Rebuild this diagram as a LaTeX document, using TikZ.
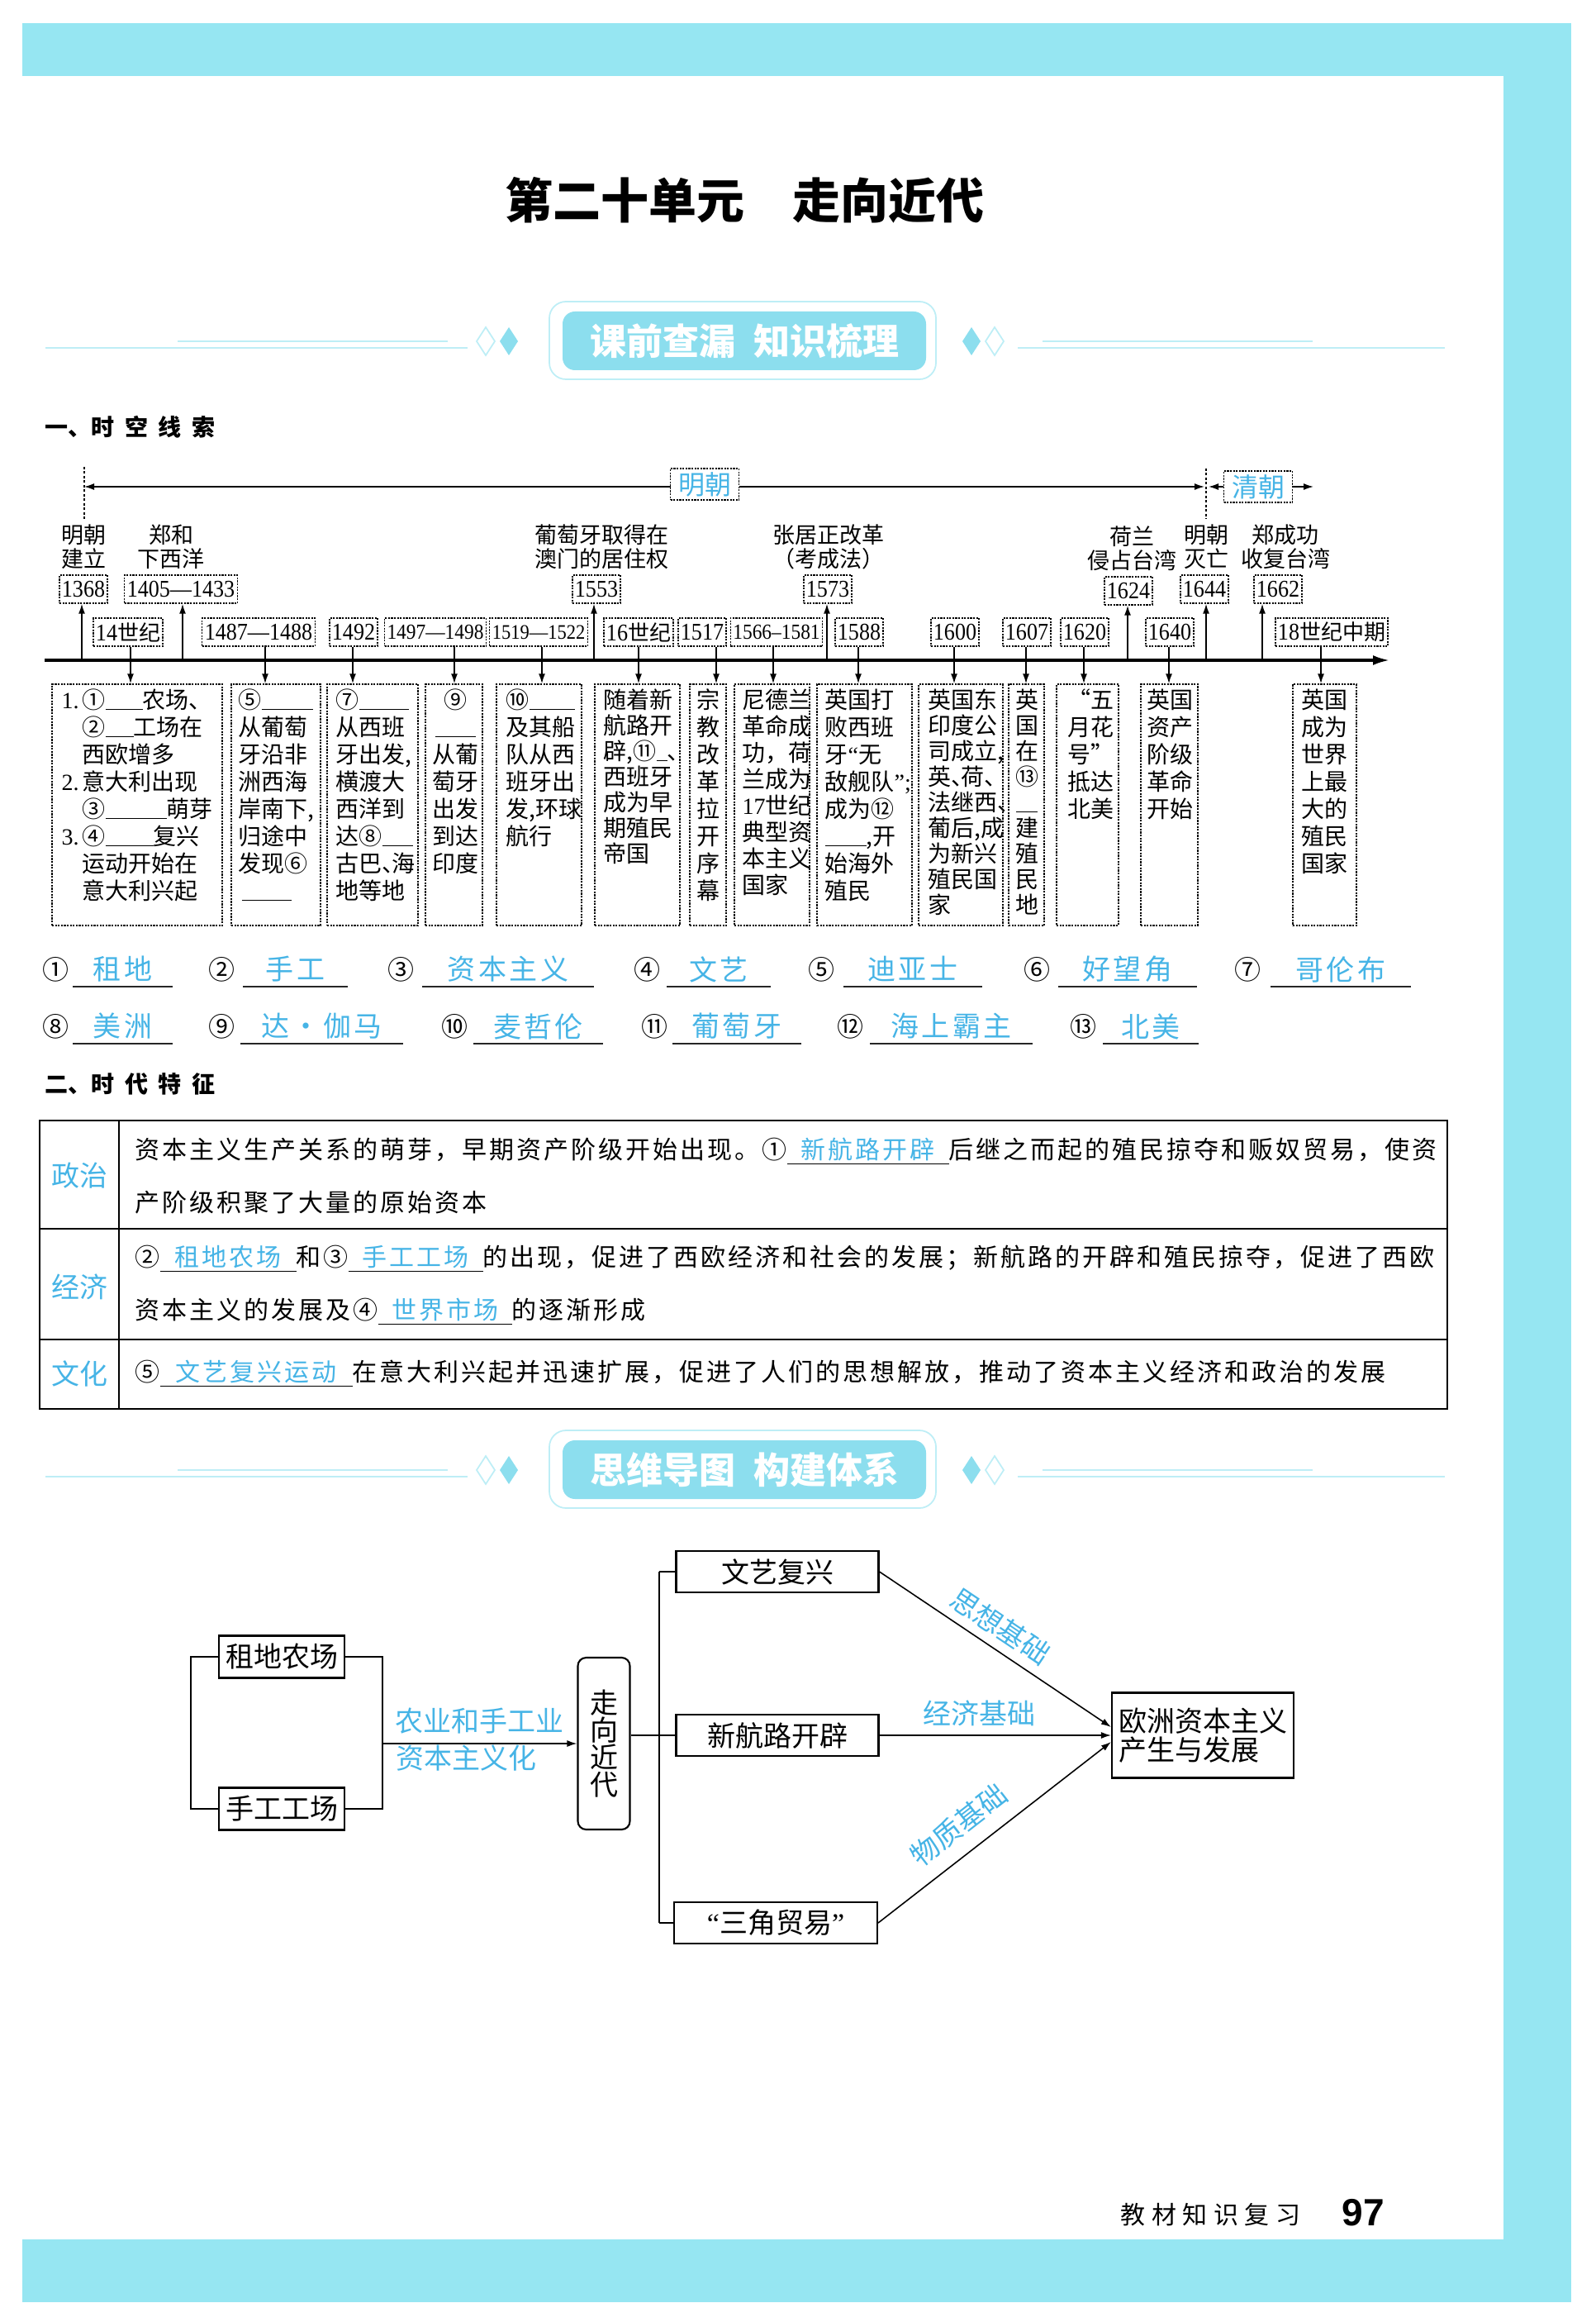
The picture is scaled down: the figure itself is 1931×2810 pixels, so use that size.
\documentclass[tikz,border=0pt]{standalone}
\usepackage{fontspec}
\setmainfont{Noto Sans CJK SC}
\newfontfamily\cjkf{Noto Sans CJK SC}
\newfontfamily\lat{Liberation Serif}
\newfontfamily\latc[FakeStretch=0.9]{Liberation Serif}
\newfontfamily\tabfont[LetterSpace=10]{Noto Sans CJK SC}
\newfontfamily\headfont[LetterSpace=45]{Noto Sans CJK SC}
\newfontfamily\ansfont[LetterSpace=10]{Noto Sans CJK SC}
\newfontfamily\footfont[LetterSpace=25]{Noto Sans CJK SC}
\newfontfamily\arialfont{Liberation Sans}
\usetikzlibrary{arrows.meta,calc}
\newdimen\pxu \pxu=0.1mm
\newcommand\fs[2]{\fontsize{\dimexpr #1\pxu\relax}{\dimexpr #2\pxu\relax}\selectfont}
\newcommand\bl[1]{\rule[-2\pxu]{#1\pxu}{1.3\pxu}}
\newcommand\dun{\makebox[12\pxu][l]{、}}
\newcommand\fillin[2]{\makebox[#1\pxu]{\textcolor{ans}{#2}}\llap{\rule[-7\pxu]{#1\pxu}{1.2\pxu}}}
\definecolor{band}{RGB}{150,230,242}
\definecolor{ans}{RGB}{70,180,230}
\definecolor{bannerfill}{RGB}{140,222,238}
\definecolor{bannerline}{RGB}{190,238,246}
\newcommand\bannerat[3]{%
  \draw[banline] (55,#1+8) -- (566,#1+8);
  \draw[banline] (215,#1) -- (542,#1);
  \draw[banline] (1232,#1+8) -- (1749,#1+8);
  \draw[banline] (1262,#1) -- (1589,#1);
  \draw[banline] (577,#1) -- (588,#1-17) -- (599,#1) -- (588,#1+17) -- cycle;
  \fill[bannerfill] (605,#1) -- (616,#1-17) -- (627,#1) -- (616,#1+17) -- cycle;
  \draw[banline] (1193,#1) -- (1204,#1-17) -- (1215,#1) -- (1204,#1+17) -- cycle;
  \fill[bannerfill] (1165,#1) -- (1176,#1-17) -- (1187,#1) -- (1176,#1+17) -- cycle;
  \draw[banline, fill=white, rounded corners=2mm] (665,#1-48) rectangle (1133,#1+46);
  \fill[bannerfill, rounded corners=1.5mm] (681,#1-36) rectangle (1121,#1+35);
  \node[font=\bfseries\fs{44}{46}, text=white, inner sep=0pt] (#2) at (901,#1) {#3};}
\newcommand\ansitem[7]{%
  \node[circn] (#1n) at (#2,#5) {#6};
  \node[ansu, minimum width=#4mm] (#1) at (#3,#5) {#7};
  \draw[uline] (#1.south west) -- (#1.south east);}
\newcommand\cbox[3]{\node[cframe, minimum width=#3mm] (#1) at (#2,974) {};}
\begin{document}
\begin{tikzpicture}[x=0.1mm,y=-0.1mm,
  mytip/.tip={Latex[length=1.2mm,width=0.8mm]},
  bigtip/.tip={Latex[length=2mm,width=1.2mm]},
  conn/.style={line width=0.45pt},
  arr/.style={conn,-mytip},
  dotline/.style={line width=0.3pt, dash pattern=on 0.3mm off 0.25mm},
  ybox/.style={draw, dash pattern=on 0.22mm off 0.14mm, line width=0.4pt, fill=white, inner xsep=0.3mm, inner ysep=0pt, minimum height=3.4mm, font=\latc\fs{29}{30}},
  tlab/.style={align=center, inner sep=0pt, font=\fs{27}{29}},
  cframe/.style={draw, dash pattern=on 0.22mm off 0.14mm, line width=0.4pt, inner sep=0pt, minimum height=29.2mm},
  ctext/.style={inner sep=0pt, align=left, anchor=north west, font=\fs{28}{33}},
  ccol/.style={inner sep=0pt, align=center, anchor=north, font=\fs{28}{33}},
  circn/.style={inner sep=0pt, font=\fs{32}{34}},
  ansu/.style={inner sep=0pt, minimum height=4mm, text=ans, font=\ansfont\fs{34}{36}},
  uline/.style={line width=0.45pt, black!85},
  head/.style={anchor=west, inner sep=0pt, font=\bfseries\fs{28}{30}},
  tabline/.style={line width=0.6pt},
  tabtext/.style={anchor=west, inner sep=0pt, font=\tabfont\fs{30}{32}},
  rowlab/.style={text=ans, font=\fs{34}{36}, inner sep=0pt},
  mbox/.style={draw, line width=0.6pt, inner sep=0pt, font=\fs{34}{36}},
  mlab/.style={text=ans, font=\fs{34}{36}, inner sep=3pt},
  banline/.style={draw=bannerline, line width=0.5pt}
]
\useasboundingbox (0,0) rectangle (1931,2810);
% page bands
\fill[band] (27,28) rectangle (1902,92);
\fill[band] (1820,28) rectangle (1902,2786);
\fill[band] (27,2710) rectangle (1902,2786);

\node[font=\bfseries\fs{58}{60}, inner sep=0pt] (title) at (901,242) {第二十单元\hspace{1em}走向近代};
\bannerat{413}{ban1}{课前查漏\hspace{0.5em}知识梳理}
\node[head] (h1) at (54,517) {一、{\headfont\bfseries 时空线索}};

% dynasty line
\coordinate (mL) at (102,589);
\coordinate (mR) at (1458,589);
\coordinate (qL) at (1463,589);
\coordinate (qR) at (1590,589);
\coordinate (d1a) at (102,565); \coordinate (d1b) at (102,628);
\coordinate (d2a) at (1460,567); \coordinate (d2b) at (1460,628);
\draw[dotline] (d1a) -- (d1b);
\draw[dotline] (d2a) -- (d2b);
\draw[conn, mytip-mytip] (mL) -- (mR);
\node[ybox, font=\cjkf\fs{32}{34}, text=ans, minimum width=8.3mm, minimum height=3.8mm] (ming) at (853,586) {明朝};
\node[ybox, font=\cjkf\fs{32}{34}, text=ans, minimum width=8.3mm, minimum height=3.8mm] (qing) at (1523,589) {清朝};
\draw[conn, mytip-] (qL) -- (qing.west);
\draw[arr] (qing.east) -- (qR);

% axis
\coordinate (axL) at (54,799);
\coordinate (axR) at (1682,799);
\draw[line width=0.9pt, -bigtip] (axL) -- (axR);

% upper events
\node[ybox] (u1) at (101,713) {1368};
\node[ybox] (u2) at (219,713) {1405—1433};
\node[ybox] (u3) at (722,713) {1553};
\node[ybox] (u4) at (1002,713) {1573};
\node[ybox] (u5) at (1366,715) {1624};
\node[ybox] (u6) at (1458,713) {1644};
\node[ybox] (u7) at (1547,713) {1662};
\node[tlab] (ul1) at (101,662) {明朝\\建立};
\node[tlab] (ul2) at (207,662) {郑和\\下西洋};
\node[tlab] (ul3) at (728,662) {葡萄牙取得在\\澳门的居住权};
\node[tlab] (ul4) at (1003,662) {张居正改革\\（考成法）};
\node[tlab] (ul5) at (1370,664) {荷兰\\侵占台湾};
\node[tlab] (ul6) at (1460,662) {明朝\\灭亡};
\node[tlab] (ul7) at (1556,662) {郑成功\\收复台湾};
\coordinate (ua1) at (99,799);
\coordinate (ua2) at (221,799);
\coordinate (ua3) at (719,799);
\coordinate (ua4) at (1001,799);
\coordinate (ua5) at (1365,799);
\coordinate (ua6) at (1460,799);
\coordinate (ua7) at (1528,799);
\foreach \i in {1,...,7} {\draw[arr] (ua\i) -- (ua\i |- u\i.south);}

% content boxes
\cbox{c1}{166}{20.6}
\cbox{c2}{334}{10.8}
\cbox{c3}{451}{11.0}
\cbox{c4}{549.5}{6.9}
\cbox{c5}{652.5}{10.3}
\cbox{c6}{771.5}{10.3}
\cbox{c7}{857}{4.4}
\cbox{c8}{934.5}{9.1}
\cbox{c9}{1046.5}{11.5}
\cbox{c10}{1163}{10.2}
\cbox{c11}{1242.5}{4.3}
\cbox{c12}{1316.5}{7.5}
\cbox{c13}{1415.5}{6.9}
\cbox{c14}{1603.5}{7.7}

% lower year boxes
\node[ybox] (l1) at (155,765) {14{\cjkf\fs{26}{30}世纪}};
\node[ybox] (l2) at (313,765) {1487—1488};
\node[ybox] (l3) at (428,765) {1492};
\node[ybox, font=\latc\fs{26}{30}] (l4) at (527,765) {1497—1498};
\node[ybox, font=\latc\fs{25}{30}] (l5) at (652,765) {1519—1522};
\node[ybox] (l6) at (773,765) {16{\cjkf\fs{26}{30}世纪}};
\node[ybox] (l7) at (850,765) {1517};
\node[ybox, font=\latc\fs{26}{30}] (l8) at (940,765) {1566–1581};
\node[ybox] (l9) at (1040,765) {1588};
\node[ybox] (l10) at (1156,765) {1600};
\node[ybox] (l11) at (1243,765) {1607};
\node[ybox] (l12) at (1313,765) {1620};
\node[ybox] (l13) at (1416,765) {1640};
\node[ybox] (l14) at (1612,765) {18{\cjkf\fs{26}{30}世纪中期}};
\foreach \i/\x in {1/158,2/321,3/427,4/550,5/656,6/773,7/867,8/936,9/1039,10/1155,11/1242,12/1312,13/1415,14/1599}
  {\coordinate (k\i) at (\x,0); \draw[arr] (l\i.south -| k\i) -- (c\i.north -| k\i);}

% content texts
\node[ctext] (c1t) at (74,833) {\makebox[25\pxu][l]{\lat 1.}①\bl{45}农场、\\
\hspace*{25\pxu}②\bl{34}工场在\\
\hspace*{25\pxu}西欧增多\\
\makebox[25\pxu][l]{\lat 2.}意大利出现\\
\hspace*{25\pxu}③\bl{74}萌芽\\
\makebox[25\pxu][l]{\lat 3.}④\bl{58}复兴\\
\hspace*{25\pxu}运动开始在\\
\hspace*{25\pxu}意大利兴起};
\node[ctext] (c2t) at (288,833) {⑤\bl{62}\\从葡萄\\牙沿非\\洲西海\\岸南下,\\归途中\\发现⑥\\\hspace*{4\pxu}\bl{60}};
\node[ctext] (c3t) at (406,833) {⑦\bl{60}\\从西班\\牙出发,\\横渡大\\西洋到\\达⑧\bl{37}\\古巴\dun 海\\地等地};
\node[ccol] (c4t) at (551,833) {⑨\\\bl{49}\\从葡\\萄牙\\出发\\到达\\印度};
\node[ctext] (c5t) at (612,833) {⑩\bl{55}\\及其船\\队从西\\班牙出\\发,环球\\航行};
\node[ctext, font=\fs{28}{31}] (c6t) at (730,833) {随着新\\航路开\\辟,⑪\bl{13}\dun\\西班牙\\成为早\\期殖民\\帝国};
\node[ccol] (c7t) at (857,833) {宗\\教\\改\\革\\拉\\开\\序\\幕};
\node[ctext, font=\fs{28}{32}] (c8t) at (898,833) {尼德兰\\革命成\\功，荷\\兰成为\\{\lat 17}世纪\\典型资\\本主义\\国家};
\node[ctext] (c9t) at (998,833) {英国打\\败西班\\牙{\lat “}无\\敌舰队{\lat ”;}\\成为⑫\\\bl{50},开\\始海外\\殖民};
\node[ctext, font=\fs{28}{31}] (c10t) at (1123,833) {英国东\\印度公\\司成立,\\英\dun 荷\dun\\法继西\dun\\葡后,成\\为新兴\\殖民国\\家};
\node[ccol, font=\fs{28}{31}] (c11t) at (1243,833) {英\\国\\在\\⑬\\\bl{26}\\建\\殖\\民\\地};
\node[ctext] (c12t) at (1292,833) {“五\\月花\\号”\\抵达\\北美};
\node[ccol] (c13t) at (1416,833) {英国\\资产\\阶级\\革命\\开始};
\node[ccol] (c14t) at (1603,833) {英国\\成为\\世界\\上最\\大的\\殖民\\国家};

% answers
\ansitem{a1}{67}{148.5}{11.9}{1173}{①}{租地}
\ansitem{a2}{268}{357.5}{12.5}{1173}{②}{手工}
\ansitem{a3}{485}{615}{20.6}{1173}{③}{资本主义}
\ansitem{a4}{783}{870}{12.4}{1173}{④}{文艺}
\ansitem{a5}{994}{1105}{16.6}{1173}{⑤}{迪亚士}
\ansitem{a6}{1255}{1365}{16.6}{1173}{⑥}{好望角}
\ansitem{a7}{1510}{1623}{16.8}{1173}{⑦}{哥伦布}
\ansitem{a8}{67}{148.5}{11.9}{1242}{⑧}{美洲}
\ansitem{a9}{268}{389.5}{19.5}{1242}{⑨}{达·伽马}
\ansitem{a10}{550}{651.5}{15.5}{1242}{⑩}{麦哲伦}
\ansitem{a11}{792}{892}{15.4}{1242}{⑪}{葡萄牙}
\ansitem{a12}{1029}{1151.5}{19.5}{1242}{⑫}{海上霸主}
\ansitem{a13}{1311}{1393}{11.4}{1242}{⑬}{北美}

% table
\node[head] (h2) at (54,1312) {二、{\headfont\bfseries 时代特征}};
\draw[tabline] (48,1356) rectangle (1752,1705);
\draw[tabline] (48,1487) -- (1752,1487);
\draw[tabline] (48,1621) -- (1752,1621);
\draw[tabline] (144,1356) -- (144,1705);
\node[rowlab] (tz) at (96,1423) {政治};
\node[rowlab] (tj) at (96,1557) {经济};
\node[rowlab] (tw) at (96,1662) {文化};
\node[tabtext] (t1a) at (163,1393) {资本主义生产关系的萌芽，早期资产阶级开始出现。①\fillin{196}{新航路开辟}后继之而起的殖民掠夺和贩奴贸易，使资};
\node[tabtext] (t1b) at (163,1455) {产阶级积聚了大量的原始资本};
\node[tabtext] (t2a) at (163,1523) {②\fillin{165}{租地农场}和③\fillin{163}{手工工场}的出现，促进了西欧经济和社会的发展；新航路的开辟和殖民掠夺，促进了西欧};
\node[tabtext] (t2b) at (163,1587) {资本主义的发展及④\fillin{162}{世界市场}的逐渐形成};
\node[tabtext] (t3) at (163,1662) {⑤\fillin{233}{文艺复兴运动}在意大利兴起并迅速扩展，促进了人们的思想解放，推动了资本主义经济和政治的发展};

% mind map
\bannerat{1779}{ban2}{思维导图\hspace{0.5em}构建体系}
\node[mbox, minimum width=24.5mm, minimum height=5mm] (wy) at (941,1902) {文艺复兴};
\node[mbox, minimum width=24.5mm, minimum height=5mm] (xh) at (941,2100) {新航路开辟};
\node[mbox, minimum width=24.6mm, minimum height=5mm] (sj) at (939,2327) {{\lat “}三角贸易{\lat ”}};
\node[mbox, minimum width=15.2mm, minimum height=5.1mm] (zd) at (341,2005) {租地农场};
\node[mbox, minimum width=15.2mm, minimum height=5.1mm] (sg) at (341,2189) {手工工场};
\node[mbox, rounded corners=1mm, minimum width=6.3mm, minimum height=20.8mm, align=center, font=\fs{34}{33}] (zx) at (731,2110) {走\\向\\近\\代};
\node[mbox, minimum width=22mm, minimum height=10.3mm, align=left, font=\fs{34}{35}] (oz) at (1456,2100) {欧洲资本主义\\产生与发展};
\coordinate (bl) at (231,2100);
\coordinate (br) at (463,2100);
\coordinate (bv) at (798,2100);
\draw[conn] (zd.west) -- (zd.west -| bl) -- (sg.west -| bl) -- (sg.west);
\draw[conn] (zd.east) -- (zd.east -| br) -- (sg.east -| br) -- (sg.east);
\draw[arr] (br |- zx.west) -- (zx.west);
\node[mlab] (nl1) at (580,2083) {农业和手工业};
\node[mlab] (nl2) at (564,2128) {资本主义化};
\draw[conn] (wy.west -| bv) -- (sj.west -| bv);
\draw[conn] (wy.west -| bv) -- (wy.west);
\draw[conn] (sj.west -| bv) -- (sj.west);
\draw[conn] (zx.east |- xh.west) -- (xh.west);
\draw[arr] (wy.east) -- node[mlab, sloped, above, pos=0.47] (lsx) {思想基础} ([yshift=1mm]oz.west);
\draw[arr] (xh.east) -- node[mlab, above, pos=0.43] (ljj) {经济基础} (oz.west);
\draw[arr] (sj.east) -- node[mlab, sloped, above, pos=0.42, inner sep=5pt] (lwz) {物质基础} ([yshift=-0.8mm]oz.west);

% footer
\node[anchor=west, inner sep=0pt, font=\footfont\fs{30}{32}] (foot) at (1356,2680) {教材知识复习};
\node[anchor=west, inner sep=0pt, font=\arialfont\bfseries\fs{46}{48}] (pg) at (1624,2678) {97};
\end{tikzpicture}
\end{document}
